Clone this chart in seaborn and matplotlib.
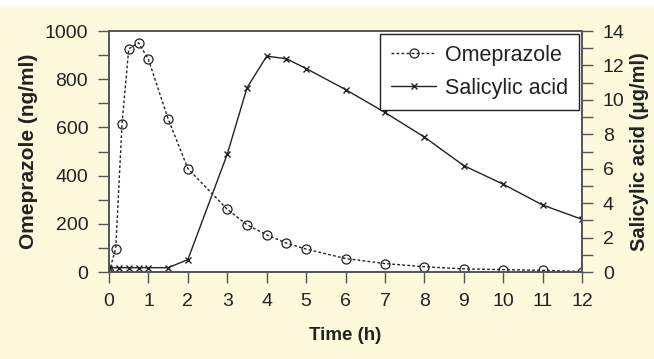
import pandas as pd
import matplotlib.pyplot as plt
import seaborn as sns
from matplotlib.ticker import MultipleLocator

# Omeprazole plasma concentration (ng/ml)
ome_time = [0, 0.17, 0.33, 0.5, 0.75, 1, 1.5, 2, 3, 3.5, 4, 4.5, 5, 6, 7, 8, 9, 10, 11, 12]
ome_conc = [0, 97, 615, 926, 951, 882, 635, 429, 260, 196, 154, 120, 95, 56, 35, 22, 13, 10, 7, 2]

# Salicylic acid plasma concentration (ug/ml)
sal_time = [0, 0.25, 0.5, 0.75, 1, 1.5, 2, 3, 3.5, 4, 4.5, 5, 6, 7, 8, 9, 10, 11, 12]
sal_conc = [0.25, 0.25, 0.25, 0.25, 0.25, 0.25, 0.72, 6.85, 10.7, 12.54, 12.39, 11.82,
            10.6, 9.27, 7.84, 6.18, 5.1, 3.89, 3.06]

x_ticks = list(range(0, 13))

sns.set_style('ticks')
plt.rcParams['font.family'] = ['Liberation Sans', 'DejaVu Sans']

bg = '#fdf9dc'
ink = '#222222'
fig = plt.figure(figsize=(6.54, 3.59), dpi=100, facecolor=bg)
fig.patches.append(plt.Rectangle((0, 0.981), 1, 0.02, transform=fig.transFigure,
                                 facecolor='white', edgecolor='none', zorder=0))
ax = fig.add_axes([0.1667, 0.2423, 0.7233, 0.6713])
ax2 = ax.twinx()

ome = pd.DataFrame({'t': ome_time, 'c': ome_conc})
sal = pd.DataFrame({'t': sal_time, 'c': sal_conc})

sns.lineplot(data=ome, x='t', y='c', ax=ax, color=ink, lw=1,
             linestyle=(0, (2, 1.6)), marker='o', markersize=6.5,
             markerfacecolor='none', markeredgecolor=ink, markeredgewidth=0.9,
             label='Omeprazole', legend=False)
sns.lineplot(data=sal, x='t', y='c', ax=ax2, color=ink, lw=1,
             marker='x', markersize=5, markeredgewidth=1, markeredgecolor=ink,
             label='Salicylic acid', legend=False)

ax.set_xlim(0, 12)
ax.set_ylim(0, 1000)
ax2.set_ylim(0, 14)
ax.set_xticks(x_ticks)
ax.yaxis.set_major_locator(MultipleLocator(200))
ax.yaxis.set_minor_locator(MultipleLocator(100))
ax2.yaxis.set_major_locator(MultipleLocator(2))
ax2.yaxis.set_minor_locator(MultipleLocator(1))

for a in (ax, ax2):
    a.tick_params(which='both', direction='out', length=8, width=1, color='#555555',
                  labelsize=14, labelcolor=ink, pad=7)
    for s in a.spines.values():
        s.set_color('#555555')
        s.set_linewidth(1.2)
        s.set_visible(True)
    a.set_facecolor('white')

ax.set_xlabel('Time (h)', fontsize=13.5, fontweight='bold', labelpad=12, color=ink)
ax.set_ylabel('Omeprazole (ng/ml)', fontsize=15, fontweight='bold', labelpad=5, color=ink)
ax2.set_ylabel('Salicylic acid (\u03bcg/ml)', fontsize=14.5, fontweight='bold', labelpad=4,
               color=ink)

h1, l1 = ax.get_legend_handles_labels()
h2, l2 = ax2.get_legend_handles_labels()
leg = ax2.legend(h1 + h2, l1 + l2, loc='upper right', fontsize=15.5, frameon=True,
                 fancybox=False, edgecolor=ink, framealpha=1,
                 handlelength=2.1, handletextpad=0.4, borderaxespad=0.15,
                 labelspacing=0.55, borderpad=0.5)
leg.get_frame().set_linewidth(1)
for t in leg.get_texts():
    t.set_color(ink)

fig.savefig('out.png', dpi=100, facecolor=bg)
